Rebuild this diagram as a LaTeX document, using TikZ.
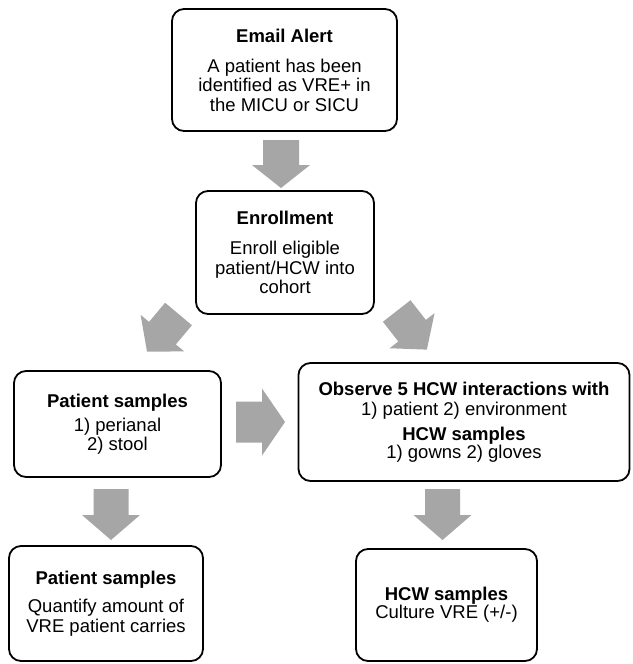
\documentclass[tikz,border=0pt]{standalone}
\usepackage{fontspec}
\setmainfont{Liberation Sans}
\definecolor{arrowgray}{HTML}{A6A6A6}
\newcommand\blockarr[7]{% x, y, angle, shaft half width, head half width, length, shaft length
  \fill[arrowgray, shift={(#1,#2)}, rotate=#3]
    (-#4,0) -- (#4,0) -- (#4,#7) -- (#5,#7) -- (0,#6) -- (-#5,#7) -- (-#4,#7) -- cycle;}
\begin{document}
\begin{tikzpicture}[x=1pt,y=-1pt,
  box/.style={draw=black, line width=1.8pt, rounded corners=12pt, fill=white,
    align=center, inner sep=0pt, font=\fontsize{18.5}{19.5}\selectfont}]
\fill[white] (0,0) rectangle (632,664);
\useasboundingbox (0,0) rectangle (632,664);

\node[box, minimum width=225pt, minimum height=122pt] (email) at (284.5,70)
  {\textbf{Email Alert}\\[10.5pt]A patient has been\\identified as VRE+ in\\the MICU or SICU};
\node[box, minimum width=178pt, minimum height=123pt] (enroll) at (285,252.5)
  {\textbf{Enrollment}\\[10.5pt]Enroll eligible\\patient/HCW into\\cohort};
\node[box, minimum width=207pt, minimum height=106pt] (ps1) at (117.5,424)
  {\textbf{Patient samples}\\[4.5pt]1) perianal\\2) stool};
\node[box, minimum width=331pt, minimum height=118pt] (obs) at (464,422)
  {\textbf{Observe 5 HCW interactions with}\\[0.5pt]1) patient 2) environment\\[5.5pt]\textbf{HCW samples}\\[-1.5pt]1) gowns 2) gloves};
\node[box, minimum width=194pt, minimum height=115pt] (ps2) at (106,603.5)
  {\textbf{Patient samples}\\[8.5pt]Quantify amount of\\VRE patient carries};
\node[box, minimum width=181pt, minimum height=112pt] (hcw) at (446.5,605)
  {\textbf{HCW samples}\\[-1.5pt]Culture VRE (+/-)};

% block arrows
\blockarr{281}{140}{0}{18}{29}{48}{25}
\blockarr{178.5}{314}{-40}{17.5}{28.5}{49}{25}
\blockarr{396.7}{311}{38}{17.5}{28.5}{49}{25}
\blockarr{236}{422}{90}{20.5}{33.5}{49}{26}
\blockarr{111}{489}{0}{17.5}{29}{51}{26}
\blockarr{442.5}{489}{0}{17.5}{29}{51}{26}
\end{tikzpicture}
\end{document}
